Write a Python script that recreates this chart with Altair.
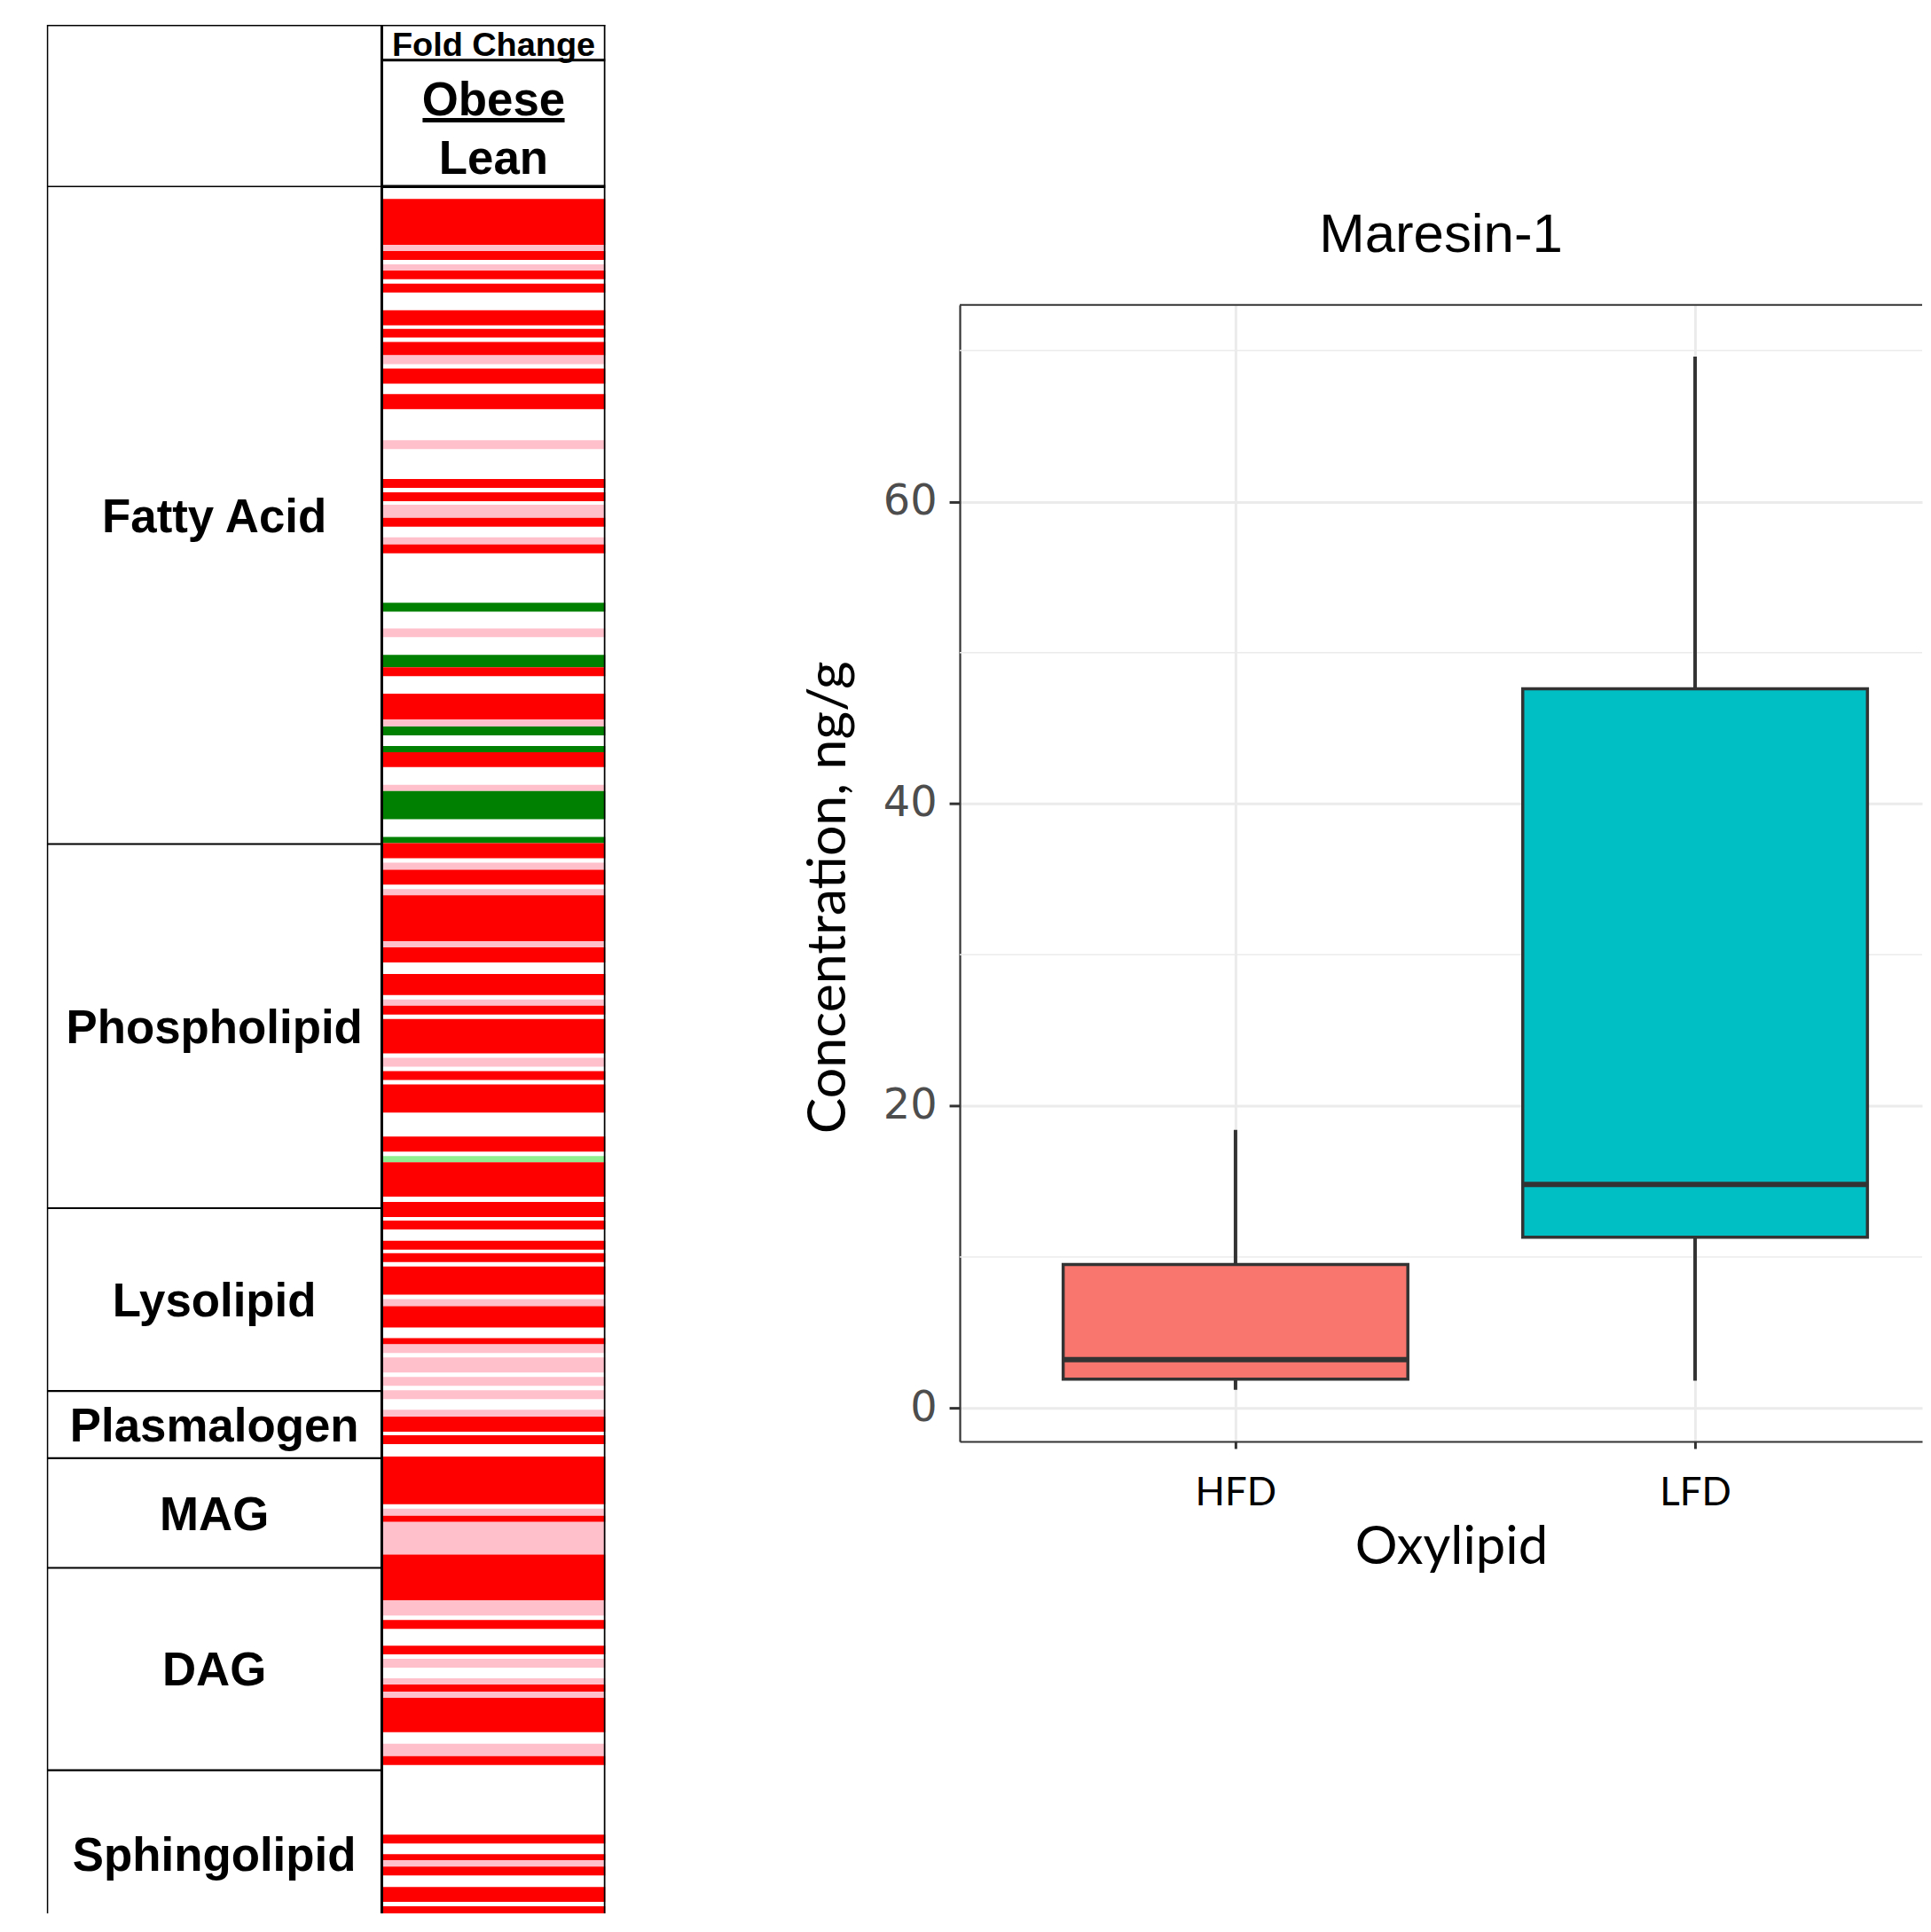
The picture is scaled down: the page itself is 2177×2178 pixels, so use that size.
import altair as alt
import pandas as pd

# ---------------- left panel data: lipid classes and fold-change strip ----------------
classes = ["Fatty Acid", "Phospholipid", "Lysolipid", "Plasmalogen", "MAG", "DAG", "Sphingolipid"]
class_end = [744, 1156, 1363, 1439, 1563, 1792, 1982]   # row position where each class ends

stripe_start = [14, 66, 73, 88, 95, 110, 140, 161, 176, 191,
                206, 235, 287, 331, 346, 360, 375, 397, 405, 471,
                500, 530, 544, 574, 603, 611, 633, 640, 677, 684,
                736, 743, 765, 773, 795, 802, 854, 861, 891, 920,
                927, 942, 986, 1001, 1016, 1075, 1097, 1104, 1149, 1170,
                1193, 1207, 1222, 1259, 1267, 1303, 1310, 1325, 1347, 1362,
                1384, 1392, 1413, 1437, 1496, 1504, 1511, 1548, 1600, 1622,
                1651, 1666, 1688, 1695, 1703, 1710, 1762, 1776, 1865, 1887,
                1894, 1901, 1924, 1946, 1961]
stripe_end = [66, 73, 83, 95, 105, 120, 157, 171, 191, 201,
              223, 252, 297, 341, 356, 375, 385, 405, 415, 481,
              510, 544, 554, 603, 611, 621, 640, 657, 684, 716,
              743, 760, 773, 790, 802, 854, 861, 878, 915, 927,
              937, 981, 996, 1011, 1048, 1092, 1104, 1143, 1166, 1180,
              1203, 1217, 1254, 1267, 1291, 1310, 1320, 1342, 1357, 1372,
              1392, 1409, 1423, 1491, 1504, 1511, 1548, 1600, 1617, 1632,
              1661, 1676, 1695, 1703, 1710, 1749, 1776, 1786, 1875, 1894,
              1901, 1911, 1941, 1956, 1982]
# R = up (significant), P = up (trend), G = down (significant), L = down (trend)
stripe_level = list("RPRPRRRRRP" "RRPRRPRPRG" "PGRRPGGRPG" "GRPRPRPRRP"
                    "RRPRRRLRRR" "RRRPRRPPPP" "PRRRPRPRPR" "RPPRPRPRRR" "PRRRR")
level_codes = ["R", "P", "G", "L"]
level_colors = ["#FF0000", "#FFC0CB", "#008000", "#90EE90"]

header_title = "Fold Change"
ratio_top = "Obese"
ratio_bottom = "Lean"

# ---------------- right panel data: boxplot ----------------
groups = ["HFD", "LFD"]
whisker_low = [1.2, 1.8]
q1 = [1.9, 11.3]
median = [3.2, 14.8]
q3 = [9.5, 47.6]
whisker_high = [18.4, 69.6]
box_fill = ["#F8766D", "#00BFC4"]
y_ticks = [0, 20, 40, 60]
y_minor = [10, 30, 50, 70]
y_domain = [-2.22, 73.02]
x_domain = [0.4, 2.494]

# ---------------- left panel ----------------
LEFT_W, LEFT_H = 632, 2137
col_edges = [0, 1, 1.6675]
header_rows = [-183, -143, 0]
y_bottom = 1954

xs = alt.Scale(domain=[col_edges[0], col_edges[2]], nice=False, zero=False)
ys = alt.Scale(domain=[header_rows[0], y_bottom], reverse=True, nice=False, zero=False)

stripes = pd.DataFrame({"start": stripe_start, "end": stripe_end, "level": stripe_level})
strip = alt.Chart(stripes).transform_calculate(
    x0=f"{col_edges[1]}", x1=f"{col_edges[2]}"
).mark_rect(clip=True).encode(
    x=alt.X("x0:Q", scale=xs, axis=None),
    x2="x1:Q",
    y=alt.Y("start:Q", scale=ys, axis=None),
    y2="end:Q",
    color=alt.Color("level:N", scale=alt.Scale(domain=level_codes, range=level_colors), legend=None),
)

c0, c1, c2 = col_edges
h0, h1, h2 = header_rows
rows = [
    (c0, c0, h0, y_bottom, 3.0),
    (c1, c1, h0, y_bottom, 3.0),
    (c2, c2, h0, y_bottom, 3.5),
    (c0, c2, h0, h0, 3.0),
    (c1, c2, h1, h1, 3.0),
    (c0, c1, h2, h2, 1.5),
    (c1, c2, h2, h2, 3.5),
]
for e in class_end[:-1]:
    rows.append((c0, c1, e, e, 2.2))
lines = pd.DataFrame(rows, columns=["x0", "x1", "y0", "y1", "w"])
table_lines = alt.Chart(lines).mark_rule(color="black", clip=True).encode(
    x=alt.X("x0:Q", scale=xs, axis=None),
    x2="x1:Q",
    y=alt.Y("y0:Q", scale=ys, axis=None),
    y2="y1:Q",
    strokeWidth=alt.StrokeWidth("w:Q", scale=None),
)

cls = pd.DataFrame({"cls": classes, "start": [0] + class_end[:-1], "end": class_end})
class_labels = alt.Chart(cls).transform_calculate(
    mid="(datum.start + datum.end) / 2", xc=f"{(c0 + c1) / 2}"
).mark_text(font="Liberation Sans", fontWeight="bold", fontSize=53, baseline="alphabetic",
            dy=19, align="center", color="black").encode(
    x=alt.X("xc:Q", scale=xs, axis=None),
    y=alt.Y("mid:Q", scale=ys, axis=None),
    text="cls:N",
)

hdr = pd.DataFrame({"t": [header_title, ratio_top, ratio_bottom],
                    "y": [-148, -81, -14],
                    "s": [38, 53, 53]})
header_text = alt.Chart(hdr).transform_calculate(
    xc=f"{(c1 + c2) / 2}"
).mark_text(font="Liberation Sans", fontWeight="bold", baseline="alphabetic",
            align="center", color="black").encode(
    x=alt.X("xc:Q", scale=xs, axis=None),
    y=alt.Y("y:Q", scale=ys, axis=None),
    text="t:N",
    size=alt.Size("s:Q", scale=None),
)

uline = pd.DataFrame({"x0": [(c1 + c2) / 2 - 0.212], "x1": [(c1 + c2) / 2 + 0.212], "y": [-75]})
underline = alt.Chart(uline).mark_rule(color="black", strokeWidth=5).encode(
    x=alt.X("x0:Q", scale=xs, axis=None),
    x2="x1:Q",
    y=alt.Y("y:Q", scale=ys, axis=None),
)

left = alt.layer(strip, table_lines, class_labels, header_text, underline).properties(
    width=LEFT_W, height=LEFT_H
)

# ---------------- right panel ----------------
RIGHT_W, RIGHT_H = 1089, 1286
xr = alt.Scale(domain=x_domain, nice=False, zero=False)
yr = alt.Scale(domain=y_domain, nice=False, zero=False)

x_axis = alt.Axis(values=list(range(1, len(groups) + 1)), labelExpr=f"{groups}[datum.value - 1]",
                  title="Oxylipid", grid=True, gridColor="#EBEBEB", gridWidth=3,
                  domainColor="#333333", domainWidth=2.2, tickColor="#333333", tickWidth=3,
                  tickSize=8, labelFont="Lato", labelFontSize=44, labelColor="black",
                  labelPadding=29, labelAngle=0, titleFont="Lato", titleFontSize=60,
                  titleFontWeight="normal", titleColor="black", titlePadding=10,
                  titleX=556, titleAlign="center")
y_axis = alt.Axis(values=y_ticks, title="Concentration, ng/g", grid=True, gridColor="#EBEBEB",
                  gridWidth=3, domainColor="#333333", domainWidth=2.2, tickColor="#333333",
                  tickWidth=3, tickSize=12, labelFont="DejaVu Sans", labelFontSize=48,
                  labelColor="#4D4D4D", labelPadding=14, titleFont="Lato", titleFontSize=61,
                  titleFontWeight="normal", titleColor="black", titleAngle=-90,
                  titleX=-130, titleY=670, titleBaseline="alphabetic", titleAlign="center")

box = pd.DataFrame({"group": groups, "pos": list(range(1, len(groups) + 1)),
                    "lo": whisker_low, "q1": q1, "med": median, "q3": q3, "hi": whisker_high})

minor = alt.Chart(pd.DataFrame({"v": y_minor})).mark_rule(color="#EBEBEB", strokeWidth=1.5).encode(
    y=alt.Y("v:Q", scale=yr, axis=y_axis),
)
whiskers = alt.Chart(box).mark_rule(color="#333333", strokeWidth=4).encode(
    x=alt.X("pos:Q", scale=xr, axis=x_axis),
    y=alt.Y("lo:Q", scale=yr, axis=y_axis),
    y2="hi:Q",
)
boxes = alt.Chart(box).transform_calculate(
    l="datum.pos - 0.375", r="datum.pos + 0.375"
).mark_rect(stroke="#333333", strokeWidth=3.5).encode(
    x=alt.X("l:Q", scale=xr, axis=x_axis),
    x2="r:Q",
    y=alt.Y("q1:Q", scale=yr, axis=y_axis),
    y2="q3:Q",
    fill=alt.Fill("group:N", scale=alt.Scale(domain=groups, range=box_fill), legend=None),
)
medians = alt.Chart(box).transform_calculate(
    l="datum.pos - 0.375", r="datum.pos + 0.375"
).mark_rule(color="#333333", strokeWidth=6).encode(
    x=alt.X("l:Q", scale=xr, axis=x_axis),
    x2="r:Q",
    y=alt.Y("med:Q", scale=yr, axis=y_axis),
)
top_border = alt.Chart(pd.DataFrame({"v": [y_domain[1]]})).mark_rule(
    color="#333333", strokeWidth=2.2).encode(
    y=alt.Y("v:Q", scale=yr, axis=y_axis),
)

right = alt.layer(minor, whiskers, boxes, medians, top_border).properties(
    width=RIGHT_W, height=RIGHT_H,
    title=alt.TitleParams("Maresin-1", font="Liberation Sans", fontSize=62, fontWeight="normal",
                          color="black", anchor="middle", frame="group",
                          baseline="alphabetic", offset=-3),
)

spacer = alt.Chart(pd.DataFrame({"a": [0]})).mark_point(opacity=0, size=1).encode(
    x=alt.value(20), y=alt.value(20)
).properties(width=RIGHT_W, height=317)

right_col = alt.vconcat(spacer, right, spacing=0, bounds="flush")

chart = alt.hconcat(left, right_col, spacing=401, bounds="flush").properties(
    padding={"left": 45, "top": 16, "right": 0, "bottom": 0}
).configure_view(stroke=None)

chart.save("out.html", embed_options={"renderer": "svg", "actions": False})
